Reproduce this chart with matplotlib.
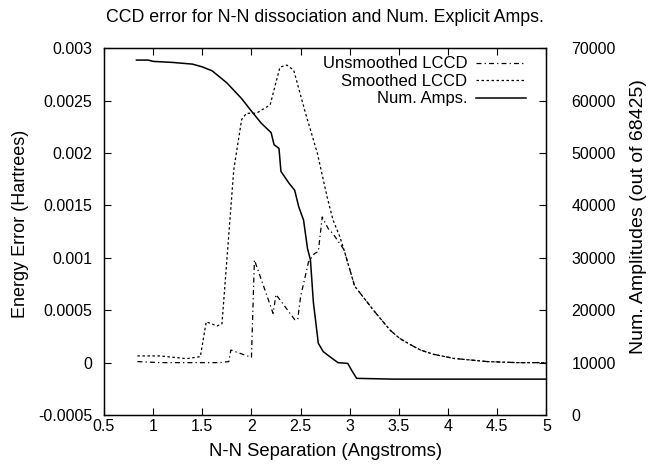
import matplotlib
matplotlib.use('agg')
import matplotlib.pyplot as plt
from matplotlib.ticker import FormatStrFormatter, MultipleLocator

plt.rcParams['font.family'] = ['Liberation Sans', 'DejaVu Sans']
plt.rcParams['font.size'] = 11.5

# Num. explicit amplitudes (right axis)
amps_x = [0.83, 0.95, 1.0, 1.2, 1.4, 1.5, 1.6, 1.75, 1.9, 2.0, 2.1, 2.2, 2.23, 2.28,
          2.3, 2.38, 2.44, 2.48, 2.53, 2.57, 2.6, 2.63, 2.68, 2.73, 2.8, 2.88, 2.98,
          3.02, 3.07, 3.45, 5.0]
amps_n = [67750, 67750, 67500, 67300, 66980, 66450, 65700, 63400, 60400, 58000, 55700,
          53900, 51600, 50900, 46500, 44300, 42900, 39800, 37200, 31800, 29600, 21500,
          13700, 12100, 11100, 10000, 9850, 8500, 7000, 6850, 6850]

# unsmoothed LCCD error (left axis)
unsm_x = [0.84, 1.07, 1.68, 1.77, 1.79, 2.00, 2.03, 2.09, 2.22, 2.25, 2.44, 2.47, 2.50,
          2.58, 2.64, 2.68, 2.72, 2.78, 2.83, 2.94, 3.05, 3.25, 3.41, 3.51, 3.62, 3.72,
          3.85, 4.06, 4.4, 4.7, 5.0]
unsm_e = [0.00001, 0.0, 0.0, 0.00001, 0.00012, 0.00005, 0.00098, 0.00082, 0.00047,
          0.00065, 0.00041, 0.00041, 0.00063, 0.00096, 0.00104, 0.00106, 0.00139,
          0.00128, 0.00123, 0.00108, 0.00073, 0.00049, 0.00031, 0.00023, 0.00017,
          0.00012, 0.00008, 0.00004, 0.00001, 0.0, 0.0]

# smoothed LCCD error (left axis)
smo_x = [0.84, 1.07, 1.34, 1.48, 1.54, 1.65, 1.70, 1.82, 1.90, 1.95, 2.05, 2.19, 2.29,
         2.36, 2.43, 2.55, 2.67, 2.77, 2.83, 2.90, 2.94, 3.05, 3.25, 3.41, 3.51, 3.62,
         3.72, 3.85, 4.06, 4.4, 4.7, 5.0]
smo_e = [0.000064, 0.000064, 0.000038, 0.000057, 0.00039, 0.00035, 0.00037, 0.00184,
         0.00232, 0.00238, 0.00238, 0.00246, 0.00282, 0.00284, 0.00279, 0.00238, 0.0020,
         0.00158, 0.00136, 0.00120, 0.00108, 0.00073, 0.00049, 0.00031, 0.00023,
         0.00017, 0.00012, 0.00008, 0.00004, 0.00001, 0.0, 0.0]

fig = plt.figure(figsize=(6.52, 4.68), dpi=100)
ax = fig.add_axes([0.1595, 0.1132, 0.6785, 0.7836])
ax2 = ax.twinx()

lw = 0.9
l1, = ax.plot(unsm_x, unsm_e, color='black', lw=lw, ls=(0, (4, 2.5, 1, 2.5)),
              label='Unsmoothed LCCD')
l2, = ax.plot(smo_x, smo_e, color='black', lw=lw, ls=(0, (2, 2)),
              label='Smoothed LCCD')
l3, = ax2.plot(amps_x, amps_n, color='black', lw=1.1, label='Num. Amps.')

ax.set_xlim(0.5, 5)
ax.set_ylim(-0.0005, 0.003)
ax2.set_ylim(0, 70000)
ax.xaxis.set_major_locator(MultipleLocator(0.5))
ax.yaxis.set_major_locator(MultipleLocator(0.0005))
ax2.yaxis.set_major_locator(MultipleLocator(10000))
ax.xaxis.set_major_formatter(FormatStrFormatter('%g'))
ax.yaxis.set_major_formatter(FormatStrFormatter('%g'))

ax.tick_params(axis='x', direction='in', top=True, length=5, width=0.8, pad=3,
               labelsize=11.5)
ax.tick_params(axis='y', direction='in', right=False, length=5, width=0.8, pad=8.5,
               labelsize=11.5)
ax2.tick_params(axis='y', direction='in', length=5, width=0.8, pad=18,
                labelsize=11.5)
for a in (ax, ax2):
    for s in a.spines.values():
        s.set_linewidth(0.9)

ax.set_title('CCD error for N-N dissociation and Num. Explicit Amps.', fontsize=12.8,
             pad=19)
ax.set_xlabel('N-N Separation (Angstroms)', fontsize=13.3, labelpad=6)
ax.set_ylabel('Energy Error (Hartrees)', fontsize=13)
ax2.set_ylabel('Num. Amplitudes (out of 68425)', fontsize=14)
ax.yaxis.set_label_coords(-0.169, 0.52)
ax2.yaxis.set_label_coords(1.188, 0.54)

ax2.legend(handles=[l1, l2, l3], loc='upper right', bbox_to_anchor=(0.955, 0.978),
           frameon=False, markerfirst=False, borderpad=0, borderaxespad=0,
           handlelength=3.0, handletextpad=0.55, labelspacing=0.15, fontsize=12)

fig.savefig('out.png', dpi=100)
